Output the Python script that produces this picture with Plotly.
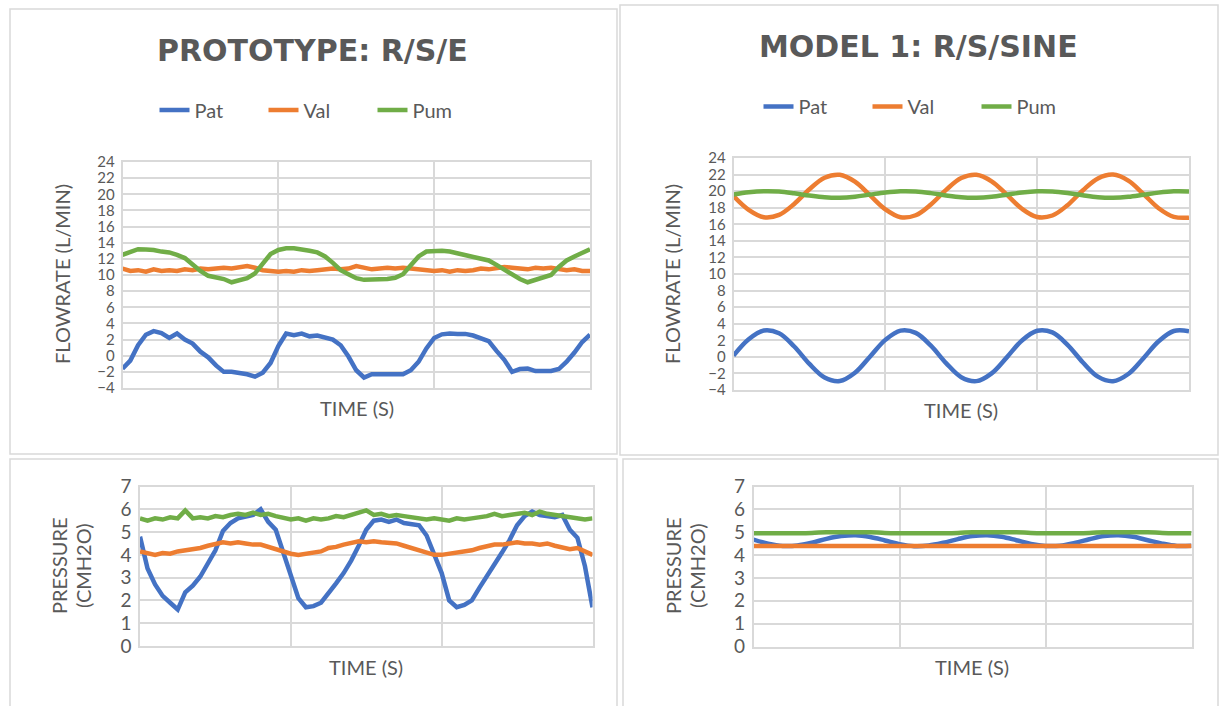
import plotly.graph_objects as go

# ---------------- data ----------------
time_proto = [i * 0.05 for i in range(61)]   # 3 grid divisions of the time axis
time_model = [i * 0.1 for i in range(31)]

flow_ticks = [-4, -2, 0, 2, 4, 6, 8, 10, 12, 14, 16, 18, 20, 22, 24]
pres_ticks = [0, 1, 2, 3, 4, 5, 6, 7]

# Prototype R/S/E - flowrate (L/min)
proto_flow_pat = [-1.6, -0.6, 1.3, 2.6, 3.05, 2.8, 2.2, 2.75, 2.0, 1.5, 0.5, -0.2, -1.2, -2.0, -2.0, -2.1,
                  -2.3, -2.6, -2.1, -0.9, 1.2, 2.75, 2.55, 2.75, 2.4, 2.5, 2.3, 2.0, 1.3, -0.1, -1.8,
                  -2.7, -2.3, -2.3, -2.3, -2.2, -2.3, -1.8, -0.75, 0.9, 2.2, 2.65, 2.75, 2.7, 2.7, 2.5,
                  2.2, 1.8, 0.6, -0.5, -2.0, -1.65, -1.6, -1.9, -1.9, -1.9, -1.65, -0.75, 0.4, 1.7, 2.6]
proto_flow_val = [10.8, 10.5, 10.6, 10.4, 10.7, 10.5, 10.6, 10.5, 10.7, 10.6, 10.8, 10.7, 10.8, 10.9, 10.8,
                  11.0, 11.1, 10.9, 10.6, 10.5, 10.4, 10.5, 10.4, 10.6, 10.5, 10.6, 10.7, 10.8, 10.7, 10.8,
                  11.1, 10.9, 10.7, 10.8, 10.9, 10.8, 10.9, 10.8, 10.7, 10.6, 10.5, 10.6, 10.4, 10.6, 10.5,
                  10.6, 10.8, 10.7, 10.9, 11.0, 10.9, 10.8, 10.7, 10.9, 10.8, 10.9, 10.7, 10.6, 10.7, 10.5, 10.5]
proto_flow_pum = [12.5, 12.9, 13.2, 13.15, 13.1, 12.9, 12.8, 12.5, 12.1, 11.3, 10.5, 9.9, 9.7, 9.5, 9.1,
                  9.4, 9.6, 10.2, 11.5, 12.6, 13.1, 13.3, 13.3, 13.2, 13.0, 12.8, 12.3, 11.5, 10.6, 10.1,
                  9.6, 9.4, 9.4, 9.4, 9.5, 9.65, 10.1, 11.2, 12.3, 12.9, 13.0, 13.0, 12.9, 12.7, 12.5,
                  12.3, 12.0, 11.8, 11.25, 10.7, 10.0, 9.5, 9.1, 9.4, 9.7, 10.0, 11.0, 11.8, 12.3, 12.8, 13.2]

# Prototype R/S/E - pressure (cmH2O)
proto_pres_pat = [4.8, 3.4, 2.7, 2.2, 1.9, 1.6, 2.35, 2.65, 3.05, 3.65, 4.2, 5.05, 5.4, 5.6, 5.7, 5.75,
                  6.0, 5.45, 5.1, 4.1, 3.0, 2.1, 1.7, 1.75, 1.9, 2.3, 2.75, 3.2, 3.75, 4.4, 5.1, 5.5,
                  5.55, 5.45, 5.55, 5.4, 5.35, 5.3, 4.85, 4.0, 3.2, 2.0, 1.7, 1.8, 2.0, 2.55, 3.05, 3.6,
                  4.1, 4.65, 5.3, 5.7, 5.9, 5.75, 5.7, 5.65, 5.75, 5.1, 4.75, 3.5, 1.7]
proto_pres_val = [4.15, 4.05, 4.0, 4.08, 4.05, 4.15, 4.2, 4.25, 4.3, 4.4, 4.5, 4.55, 4.5, 4.55, 4.5, 4.45,
                  4.45, 4.35, 4.2, 4.1, 4.05, 4.0, 4.05, 4.1, 4.15, 4.3, 4.35, 4.45, 4.55, 4.6, 4.55, 4.6,
                  4.55, 4.5, 4.5, 4.4, 4.3, 4.25, 4.1, 4.0, 4.0, 4.05, 4.1, 4.15, 4.2, 4.3, 4.4, 4.45,
                  4.45, 4.5, 4.55, 4.5, 4.5, 4.45, 4.5, 4.4, 4.3, 4.25, 4.3, 4.15, 4.0]
proto_pres_pum = [5.6, 5.5, 5.6, 5.55, 5.65, 5.6, 5.95, 5.6, 5.65, 5.6, 5.7, 5.65, 5.75, 5.8, 5.75, 5.85,
                  5.75, 5.8, 5.7, 5.6, 5.55, 5.6, 5.5, 5.6, 5.55, 5.6, 5.7, 5.65, 5.75, 5.8, 5.95, 5.75,
                  5.8, 5.7, 5.75, 5.7, 5.65, 5.6, 5.55, 5.6, 5.55, 5.5, 5.6, 5.55, 5.6, 5.65, 5.7, 5.8,
                  5.7, 5.75, 5.8, 5.85, 5.75, 5.9, 5.8, 5.75, 5.7, 5.65, 5.6, 5.55, 5.6]

# Model 1 R/S/SINE - flowrate (L/min)
model_flow_pat = [0.15, 2.13, 3.19, 2.85, 1.25, -0.85, -2.49, -2.92, -1.92, 0.05, 2.05, 3.17, 2.9, 1.35,
                  -0.75, -2.45, -2.93, -1.99, -0.06, 1.98, 3.15, 2.95, 1.45, -0.65, -2.39, -2.94, -2.07,
                  -0.16, 1.88, 3.12, 3.1]
model_flow_val = [19.4, 17.74, 16.85, 17.14, 18.46, 20.23, 21.61, 21.97, 21.14, 19.48, 17.81, 16.85, 17.09,
                  18.39, 20.15, 21.58, 21.97, 21.19, 19.58, 17.87, 16.88, 17.06, 18.31, 20.08, 21.53, 22.0,
                  21.27, 19.66, 17.94, 16.9, 16.8]
model_flow_pum = [19.6, 19.86, 19.99, 19.95, 19.74, 19.47, 19.26, 19.2, 19.33, 19.59, 19.84, 19.99, 19.96,
                  19.76, 19.48, 19.26, 19.2, 19.32, 19.57, 19.84, 19.99, 19.96, 19.77, 19.5, 19.27, 19.2,
                  19.31, 19.56, 19.82, 19.98, 19.97]

# Model 1 R/S/SINE - pressure (cmH2O)
model_pres_pat = [4.68, 4.5, 4.4, 4.42, 4.54, 4.71, 4.83, 4.87, 4.79, 4.64, 4.48, 4.39, 4.42, 4.54, 4.7,
                  4.83, 4.87, 4.8, 4.65, 4.49, 4.4, 4.41, 4.53, 4.69, 4.83, 4.87, 4.8, 4.65, 4.5, 4.4, 4.41]
model_pres_val = [4.4] * 31
model_pres_pum = [4.96, 4.96, 4.96, 4.96, 4.97, 5.0, 5.0, 5.0, 5.0, 4.97, 4.96, 4.96, 4.96, 4.96, 4.97,
                  5.0, 5.0, 5.0, 5.0, 4.97, 4.96, 4.96, 4.96, 4.97, 5.0, 5.0, 5.0, 5.0, 4.97, 4.96, 4.96]

series_names = ["Pat", "Val", "Pum"]
colors = ["#4472C4", "#ED7D31", "#70AD47"]

# ---------------- figure ----------------
W, H = 1220, 706
FONT = "Lato"
GREY = "#595959"
GRID = "#d9d9d9"


def px(x):
    return x / W


def py(y):
    return 1 - y / H


fig = go.Figure()

panels = [
    ("x", "y", time_proto, [proto_flow_pat, proto_flow_val, proto_flow_pum], "legend", "linear"),
    ("x2", "y2", time_model, [model_flow_pat, model_flow_val, model_flow_pum], "legend2", "spline"),
    ("x3", "y3", time_proto, [proto_pres_pat, proto_pres_val, proto_pres_pum], None, "linear"),
    ("x4", "y4", time_model, [model_pres_pat, model_pres_val, model_pres_pum], None, "spline"),
]
for xa, ya, t, ser, leg, shape in panels:
    for name, col, vals in zip(series_names, colors, ser):
        fig.add_trace(go.Scatter(
            x=t, y=vals, name=name, mode="lines", xaxis=xa, yaxis=ya,
            line=dict(color=col, width=4.5, shape=shape),
            showlegend=leg is not None, legend=leg if leg else "legend",
            hoverinfo="skip"))

xbase = dict(range=[0, 3], tickvals=[0, 1, 2, 3], showticklabels=False, showgrid=True,
             gridcolor=GRID, gridwidth=1.5, zeroline=False, showline=True, mirror=True,
             linecolor=GRID, linewidth=1.5, ticks="", fixedrange=True, automargin=False)
ybase = dict(showgrid=True, gridcolor=GRID, gridwidth=1.5, zeroline=False, showline=True, mirror=True,
             linecolor=GRID, linewidth=1.5, ticks="", fixedrange=True, automargin=False, ticklabelstandoff=3)

domains = {
    "1": ([122.5, 590], [162, 388]),
    "2": ([733.5, 1189], [158, 390]),
    "3": ([140, 592.5], [486.5, 646]),
    "4": ([753.5, 1191.5], [486.5, 646.5]),
}
layout_axes = {}
for k, (xd, yd) in domains.items():
    sfx = "" if k == "1" else k
    layout_axes["xaxis" + sfx] = dict(xbase, domain=[px(xd[0]), px(xd[1])], anchor="y" + sfx)
    if k in ("1", "2"):
        yrng, ytk, fs = [-4, 24], flow_ticks, 15
    else:
        yrng, ytk, fs = [0, 7], pres_ticks, 19
    layout_axes["yaxis" + sfx] = dict(ybase, domain=[py(yd[1]), py(yd[0])], anchor="x" + sfx,
                                      range=yrng, tickvals=ytk,
                                      tickfont=dict(family=FONT, size=fs, color=GREY))

fig.update_layout(**layout_axes)

# panel frames
frames = [(10, 9, 617, 454), (620, 5, 1218, 455), (10, 459, 617, 740), (623, 459, 1218, 740)]
shapes = []
for x0, y0, x1, y1 in frames:
    shapes.append(dict(type="rect", xref="paper", yref="paper", x0=px(x0), x1=px(x1), y0=py(y1), y1=py(y0),
                       line=dict(color=GRID, width=1.5), fillcolor="rgba(0,0,0,0)", layer="below"))

ann = []


def text(x, y, s, size=20, angle=0, bold=False, fam=FONT):
    ann.append(dict(x=px(x), y=py(y), xref="paper", yref="paper", text=s, showarrow=False,
                    textangle=angle, xanchor="center", yanchor="middle",
                    font=dict(family=fam, size=size, color=GREY, weight="bold" if bold else "normal")))


text(313, 50, "PROTOTYPE: R/S/E", size=30, bold=True, fam="DejaVu Sans")
text(918, 46, "MODEL 1: R/S/SINE", size=30, bold=True, fam="DejaVu Sans")
text(62, 274, "FLOWRATE (L/MIN)", angle=-90)
text(672, 274, "FLOWRATE (L/MIN)", angle=-90)
text(357, 408, "TIME (S)")
text(961, 410, "TIME (S)")
text(366, 667, "TIME (S)")
text(972, 667, "TIME (S)")
text(59, 566, "PRESSURE", angle=-90)
text(83, 566, "(CMH2O)", angle=-90)
text(673, 566, "PRESSURE", angle=-90)
text(697, 566, "(CMH2O)", angle=-90)

legend_common = dict(orientation="h", xanchor="center", yanchor="middle", bgcolor="rgba(0,0,0,0)",
                     font=dict(family=FONT, size=20, color=GREY), entrywidth=64, itemwidth=30,
                     traceorder="normal")
fig.update_layout(
    width=W, height=H, margin=dict(l=0, r=0, t=0, b=0, pad=0, autoexpand=False),
    paper_bgcolor="white", plot_bgcolor="white",
    shapes=shapes, annotations=ann, hovermode=False,
    legend=dict(legend_common, x=px(318), y=py(110)),
    legend2=dict(legend_common, x=px(922), y=py(106.5)),
)

fig.write_html("out.html", config={"displayModeBar": False},
               post_script="document.body.style.margin='0';document.body.style.overflow='hidden';")
